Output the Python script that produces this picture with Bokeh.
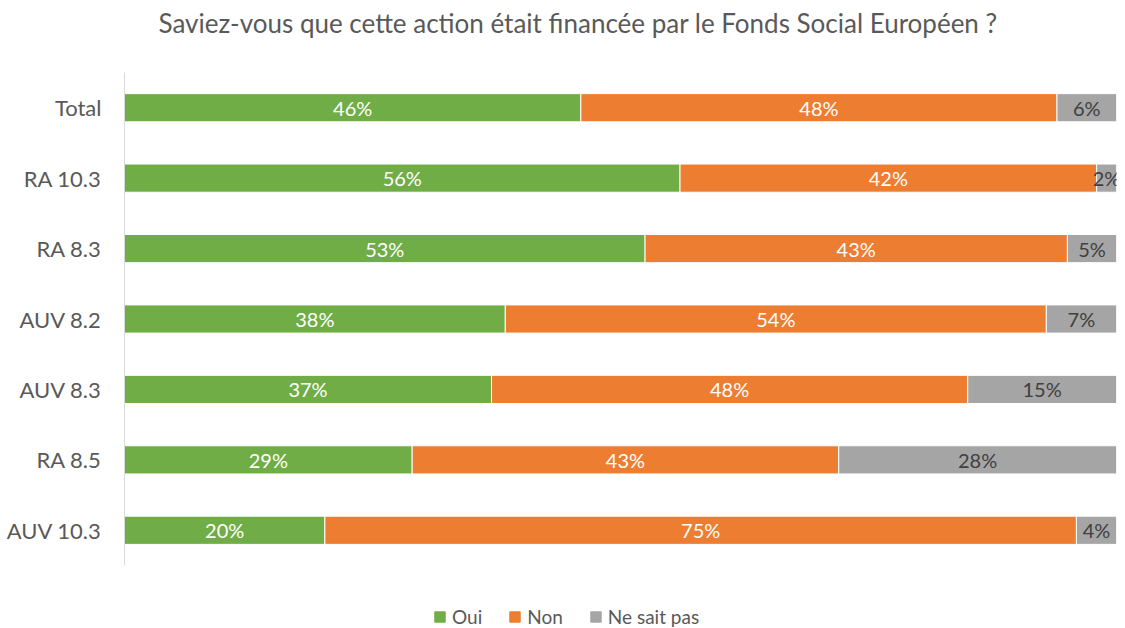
from bokeh.plotting import figure
from bokeh.layouts import column
from bokeh.models import ColumnDataSource, Range1d, Legend, LegendItem, Label
from bokeh.core.properties import value
from bokeh.embed import file_html
from bokeh.resources import INLINE

categories = ["Total", "RA 10.3", "RA 8.3", "AUV 8.2", "AUV 8.3", "RA 8.5", "AUV 10.3"]
oui = [46, 56, 53, 38, 37, 29, 20]
non = [48, 42, 43, 54, 48, 43, 75]
nsp = [6, 2, 5, 7, 15, 28, 4]
series = ["Oui", "Non", "Ne sait pas"]
colors = ["#70ad47", "#ed7d31", "#a5a5a5"]
text_colors = ["#ffffff", "#ffffff", "#404040"]
title_text = "Saviez-vous que cette action était financée par le Fonds Social Européen ?"

FONT = "Lato"
W = 1125


def strip(h):
    f = figure(width=W, height=h, x_range=Range1d(0, 1), y_range=Range1d(0, 1),
               output_backend="svg", toolbar_location=None,
               min_border_left=0, min_border_right=0, min_border_top=0, min_border_bottom=0)
    f.axis.visible = False
    f.grid.visible = False
    f.outline_line_color = None
    return f


# title strip (its frame is aligned with the chart's frame by the column layout)
tf = strip(44)
tf.add_layout(Label(x=34, y=22, x_units="screen", y_units="screen", text=title_text,
                    text_font=FONT, text_font_size="26px", text_color="#595959",
                    text_baseline="middle", text_align="left"))

tot = [a + b + c for a, b, c in zip(oui, non, nsp)]
data = {"cat": categories}
raw = {"Oui": oui, "Non": non, "Ne sait pas": nsp}
for s in series:
    data[s] = [v / t for v, t in zip(raw[s], tot)]
source = ColumnDataSource(data)

p = figure(
    y_range=list(reversed(categories)),
    x_range=Range1d(0, 1),
    width=W, height=560,
    output_backend="svg", toolbar_location=None,
    min_border_left=124, min_border_right=9, min_border_top=28, min_border_bottom=39,
)

renderers = p.hbar_stack(series, y="cat", height=0.4, color=colors, source=source,
                         line_color="white", line_width=1)

# labels
start = [0.0] * len(categories)
for s, tc in zip(series, text_colors):
    vals = data[s]
    centers = [st + v / 2 for st, v in zip(start, vals)]
    labels = ["%d%%" % r for r in raw[s]]
    lsrc = ColumnDataSource(dict(x=centers, y=categories, t=labels))
    p.text(x="x", y="y", text="t", source=lsrc, text_align="center", text_baseline="middle",
           text_font=value(FONT), text_font_size="20px", text_color=tc)
    start = [st + v for st, v in zip(start, vals)]

p.xaxis.visible = False
p.xgrid.visible = False
p.ygrid.visible = False
p.outline_line_color = None
p.yaxis.axis_line_color = "#d9d9d9"
p.yaxis.axis_line_width = 1
p.yaxis.major_tick_line_color = None
p.yaxis.minor_tick_line_color = None
p.yaxis.major_label_standoff = 17
p.yaxis.major_label_text_font = FONT
p.yaxis.major_label_text_font_size = "22px"
p.yaxis.major_label_text_color = "#595959"
p.y_range.range_padding = 0

# legend strip (dummy glyphs outside the visible range only feed the legend)
lg = strip(24)
dummy = [lg.hbar(y=[-5], left=[-5], right=[-4], height=0.5, color=c) for c in colors]
legend = Legend(items=[LegendItem(label=s, renderers=[r]) for s, r in zip(series, dummy)],
                orientation="horizontal", location=(309, 0), margin=0,
                glyph_width=13, glyph_height=13, label_standoff=6, spacing=26, padding=0,
                border_line_color=None, background_fill_alpha=0,
                label_text_font=FONT, label_text_font_size="19px", label_text_color="#595959")
lg.add_layout(legend, "center")

layout = column(tf, p, lg, spacing=0)
open("out.html", "w").write(file_html(layout, INLINE))
